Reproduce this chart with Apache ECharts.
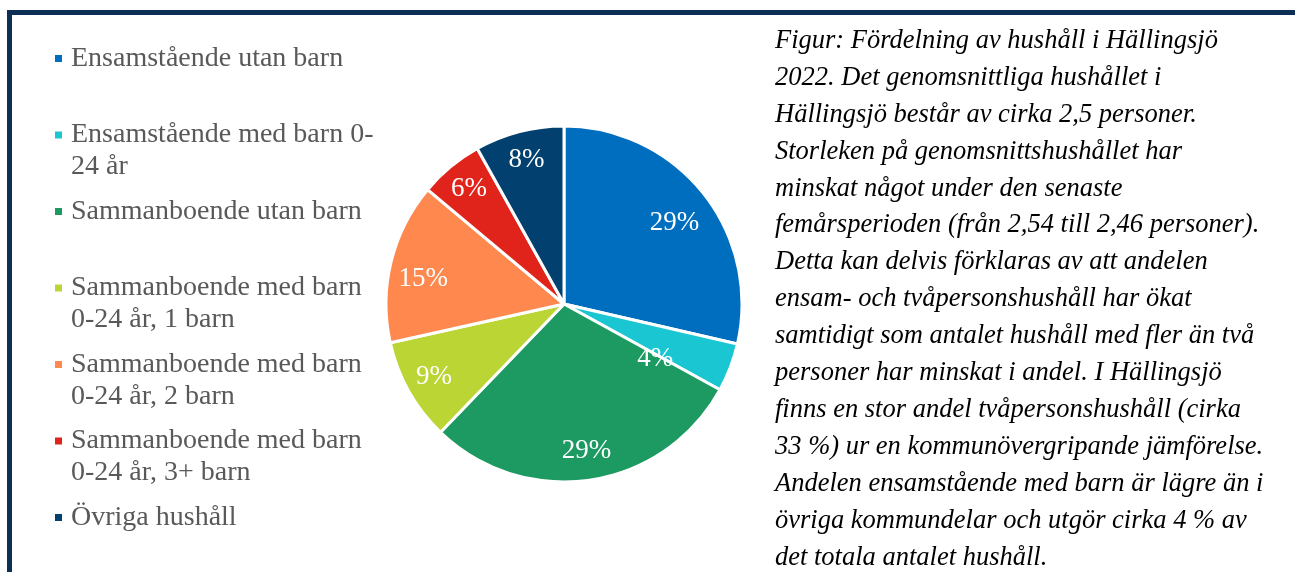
<!DOCTYPE html>
<html>
<head>
<meta charset="utf-8">
<script src="https://cdn.jsdelivr.net/npm/echarts@6/dist/echarts.min.js"></script>
<style>
  html, body { margin: 0; padding: 0; background: #fff; }
  #chart { width: 1295px; height: 572px; }
</style>
</head>
<body>
<div id="chart"></div>
<script>
// household categories and their share (%)
const categories = [
  'Ensamstående utan barn',
  'Ensamstående med barn 0-24 år',
  'Sammanboende utan barn',
  'Sammanboende med barn 0-24 år, 1 barn',
  'Sammanboende med barn 0-24 år, 2 barn',
  'Sammanboende med barn 0-24 år, 3+ barn',
  'Övriga hushåll'
]
const shares = [28.6, 4.4, 29.2, 9.3, 14.6, 5.8, 8.1]
const colors = ['#006EBE', '#1AC6D2', '#1C9A62', '#BBD535', '#FF884F', '#E0241B', '#02406F']

// legend text as wrapped in the original
const legendLines = [
  ['Ensamstående utan barn'],
  ['Ensamstående med barn 0-', '24 år'],
  ['Sammanboende utan barn'],
  ['Sammanboende med barn', '0-24 år, 1 barn'],
  ['Sammanboende med barn', '0-24 år, 2 barn'],
  ['Sammanboende med barn', '0-24 år, 3+ barn'],
  ['Övriga hushåll']
]

const caption = [
  'Figur: Fördelning av hushåll i Hällingsjö',
  '2022. Det genomsnittliga hushållet i',
  'Hällingsjö består av cirka 2,5 personer.',
  'Storleken på genomsnittshushållet har',
  'minskat något under den senaste',
  'femårsperioden (från 2,54 till 2,46 personer).',
  'Detta kan delvis förklaras av att andelen',
  'ensam- och tvåpersonshushåll har ökat',
  'samtidigt som antalet hushåll med fler än två',
  'personer har minskat i andel. I Hällingsjö',
  'finns en stor andel tvåpersonshushåll (cirka',
  '33 %) ur en kommunövergripande jämförelse.',
  'Andelen ensamstående med barn är lägre än i',
  'övriga kommundelar och utgör cirka 4 % av',
  'det totala antalet hushåll.'
]

const serif = '"Liberation Serif", "Times New Roman", serif'
const pieData = categories.map((name, i) => ({
  name: name,
  value: shares[i],
  itemStyle: { color: colors[i] }
}))

// one legend per entry so every entry sits on a fixed row pitch
const lineH = 32
const legends = categories.map((name, i) => {
  const lines = legendLines[i]
  const multi = lines.length > 1
  return {
    data: [name],
    orient: 'vertical',
    left: 53,
    top: 58.5 + i * 76.5 - (multi ? lineH * 1.5 : lineH / 2),
    padding: 0,
    itemWidth: 9,
    itemHeight: 9,
    icon: 'rect',
    selectedMode: false,
    formatter: () => (multi ? '\n' : '') + lines.join('\n'),
    textStyle: {
      fontFamily: serif,
      fontSize: 28,
      lineHeight: lineH,
      color: '#595959',
      padding: [0, 0, 0, 3]
    }
  }
})

// the small slice's label sits closer to the centre in the original
const labelItems = categories.map((name, i) => ({
  name: name,
  value: shares[i],
  label: i === 1 ? { offset: [-48, 2] } : i === 0 ? { offset: [-6, 12] } : i === 4 ? { offset: [4, 10] } : {}
}))

const chart = echarts.init(document.getElementById('chart'))
chart.setOption({
  animation: false,
  title: {
    text: caption.join('\n'),
    left: 775,
    top: 22.5,
    padding: 0,
    textStyle: {
      fontFamily: serif,
      fontStyle: 'italic',
      fontWeight: 'normal',
      fontSize: 26.5,
      lineHeight: 36.9,
      color: '#000'
    }
  },
  legend: legends,
  graphic: [
    {
      type: 'rect',
      silent: true,
      shape: { x: 9.5, y: 12.5, width: 1400, height: 700 },
      style: { fill: 'none', stroke: '#0B2F55', lineWidth: 5 }
    }
  ],
  series: [
    {
      type: 'pie',
      center: [564, 304],
      radius: [0, 178],
      startAngle: 90,
      silent: true,
      itemStyle: { borderColor: '#fff', borderWidth: 3 },
      label: { show: false },
      labelLine: { show: false },
      data: pieData
    },
    {
      // label ring: transparent copy so labels sit further out than the half radius
      type: 'pie',
      center: [564, 304],
      radius: [114, 178],
      startAngle: 90,
      silent: true,
      itemStyle: { color: 'rgba(0,0,0,0)', borderWidth: 0 },
      label: {
        show: true,
        position: 'inside',
        formatter: (p) => Math.round(p.value) + '%',
        fontFamily: serif,
        fontSize: 27,
        color: '#fff'
      },
      labelLine: { show: false },
      data: labelItems
    }
  ]
})
</script>
</body>
</html>
